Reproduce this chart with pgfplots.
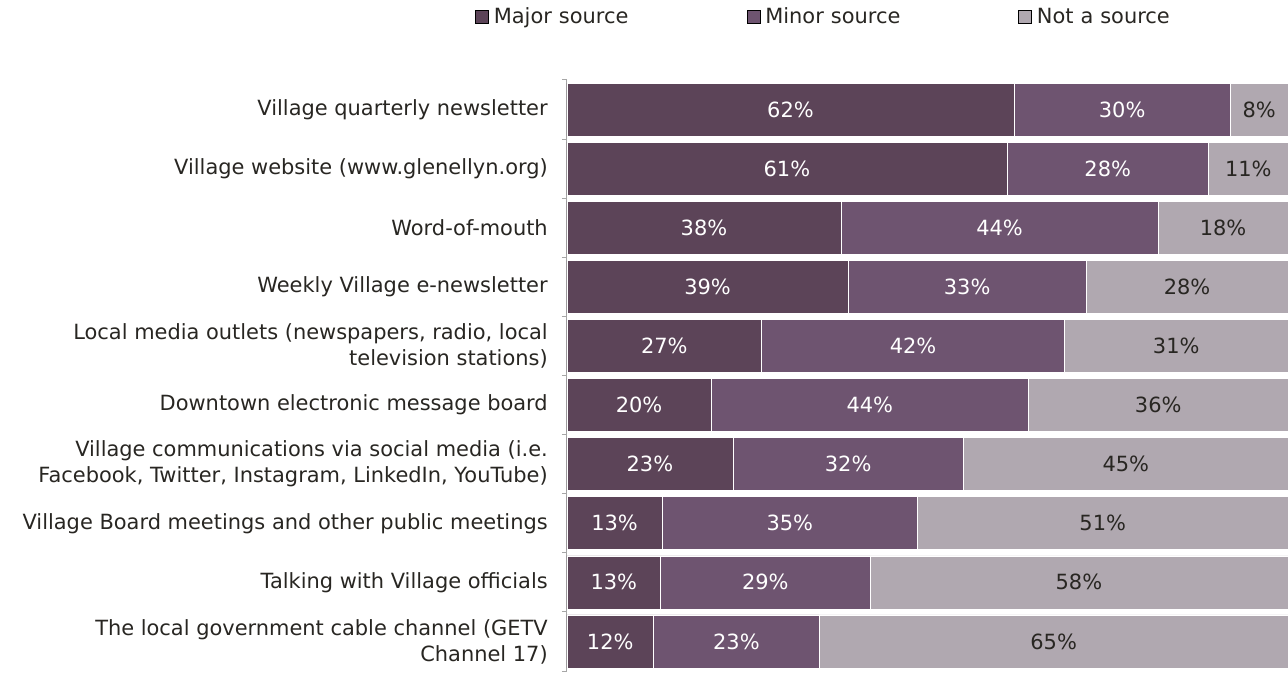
\documentclass[border=0pt]{standalone}
\usepackage{pgfplots}
\pgfplotsset{compat=1.18}
\usepackage{pgfplotstable}
\usepackage{fontspec}
\setmainfont{DejaVu Sans}

\definecolor{major}{RGB}{92,68,88}
\definecolor{minor}{RGB}{110,84,112}
\definecolor{notsrc}{RGB}{176,168,176}
\definecolor{txt}{RGB}{40,38,34}
\definecolor{axisgray}{RGB}{166,166,166}

\pgfplotstableread{
y maj min not
0 62 30 8
1 61 28 11
2 38 44 18
3 39 33 28
4 27 42 31
5 20 44 36
6 23 32 45
7 13.2 35.4 51.4
8 13 29 58
9 12 23 65
}\data

\begin{document}
\begin{tikzpicture}
\begin{axis}[
  scale only axis,
  width=540.75pt, height=443.25pt,
  xbar stacked, bar width=39.75pt,
  xmin=0, xmax=100,
  ymin=-0.5, ymax=9.5, y dir=reverse,
  axis lines*=left,
  x axis line style={draw=none},
  y axis line style={axisgray, line width=0.75pt},
  xtick=\empty,
  ytick={0,...,9},
  major tick length=0pt,
  tick align=outside,
  extra y ticks={-0.5,0.5,...,9.5},
  extra y tick labels={},
  extra y tick style={major tick length=3.75pt, tick style={axisgray, line width=0.75pt}},
  yticklabels={
    {Village quarterly newsletter},
    {Village website (www.glenellyn.org)},
    {Word-of-mouth},
    {Weekly Village e-newsletter},
    {Local media outlets (newspapers, radio, local\\television stations)},
    {Downtown electronic message board},
    {Village communications via social media (i.e.\\Facebook, Twitter, Instagram, LinkedIn, YouTube)},
    {Village Board meetings and other public meetings},
    {Talking with Village officials},
    {The local government cable channel (GETV\\Channel 17)},
  },
  yticklabel style={align=right, text=txt, inner sep=0pt, xshift=-14.25pt,
    font=\fontsize{15.7}{19.5}\selectfont},
  /pgf/number format/assume math mode=true,
  % segment labels show the raw value; pgfplots centres them in the segment
  point meta=rawx,
  nodes near coords={\pgfmathprintnumber[fixed,precision=0]{\pgfplotspointmeta}\%},
  every node near coord/.append style={anchor=center,
    font=\fontsize{15.7}{19}\selectfont},
  legend columns=3,
  legend style={at={(-0.1276,1.1066)}, anchor=west, draw=none, fill=none,
    inner sep=0pt, column sep=0pt, font=\fontsize{15.7}{19}\selectfont, text=txt,
    /tikz/every odd column/.append style={column sep=3.75pt},
    nodes={inner sep=0pt, text width=189.75pt, align=left}},
  legend image code/.code={\fill[#1] (0pt,-4.875pt) rectangle (9.75pt,4.875pt);},
]
\addplot[fill=major, draw=white, line width=0.4pt, forget plot,
  nodes near coords style={text=white}] table[x=maj, y=y] {\data};
\addplot[fill=minor, draw=white, line width=0.4pt, forget plot,
  nodes near coords style={text=white}] table[x=min, y=y] {\data};
\addplot[fill=notsrc, draw=white, line width=0.4pt, forget plot,
  nodes near coords style={text=txt}] table[x=not, y=y] {\data};
\addlegendimage{fill=major}
\addlegendentry{Major source}
\addlegendimage{fill=minor}
\addlegendentry{Minor source}
\addlegendimage{fill=notsrc}
\addlegendentry{Not a source}
\end{axis}
\pgfresetboundingbox
\path (-425.25pt,-1.5pt) rectangle (540.75pt,503.25pt);
\end{tikzpicture}
\end{document}
